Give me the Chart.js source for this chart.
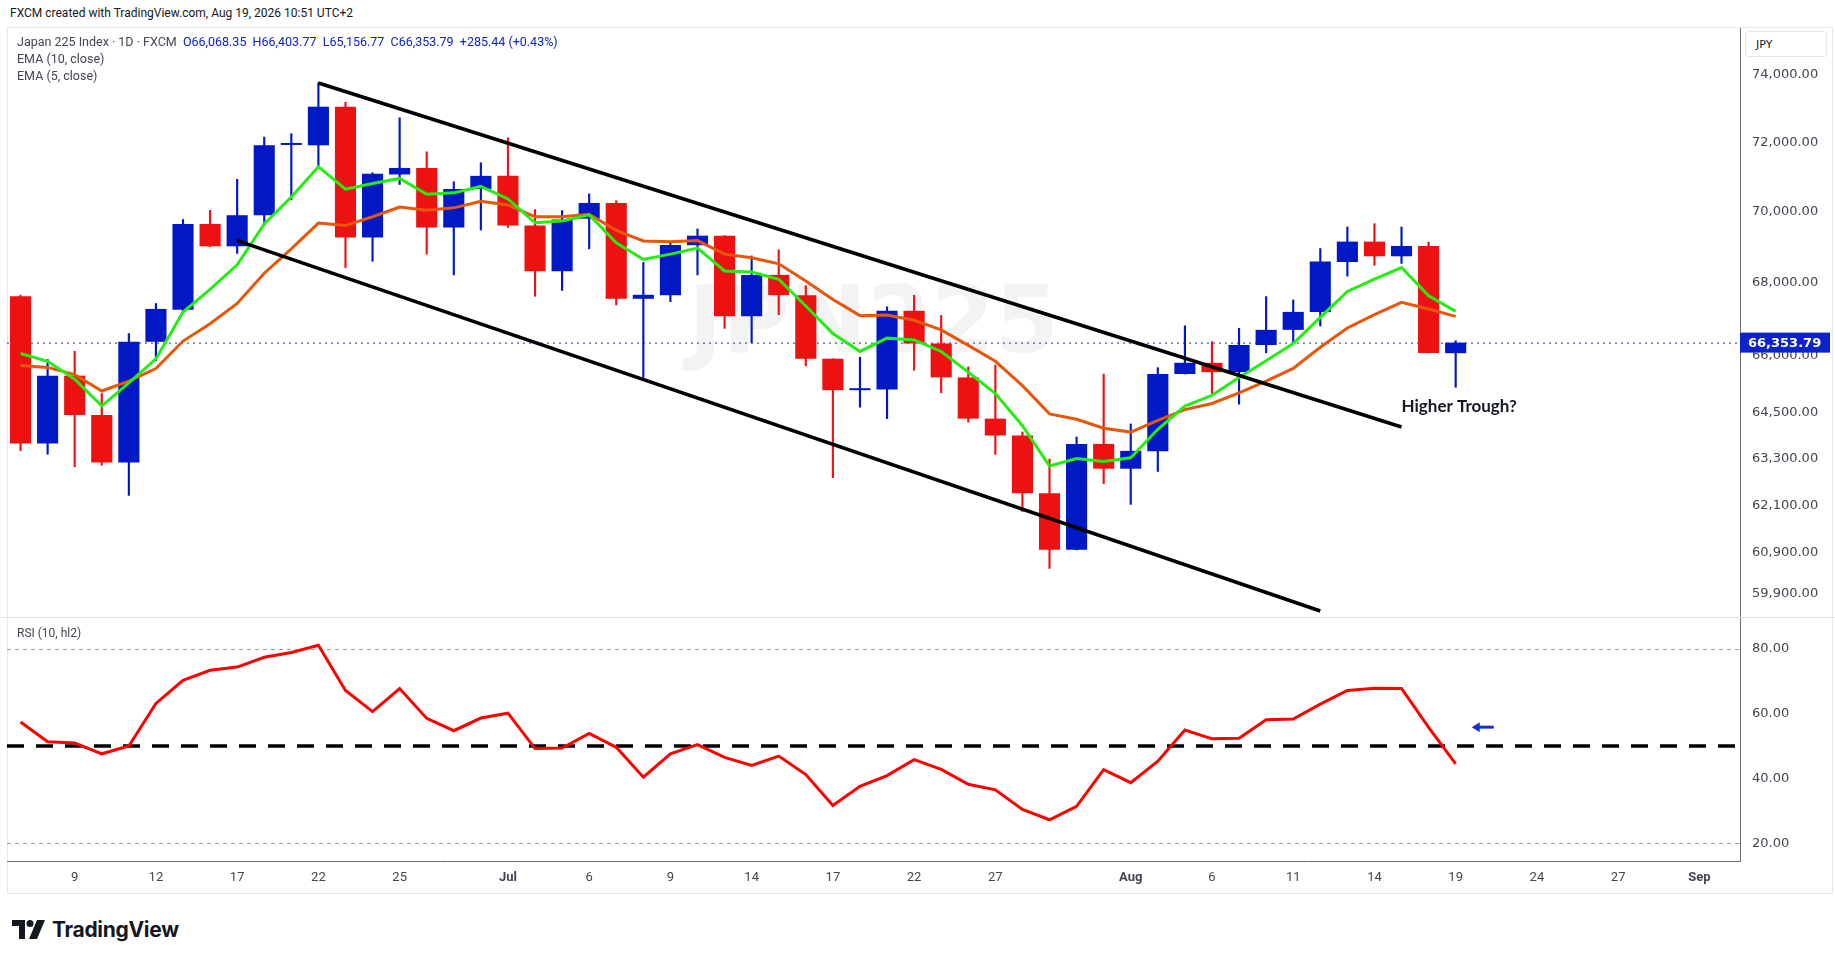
<!DOCTYPE html>
<html><head><meta charset="utf-8">
<script src="https://cdn.jsdelivr.net/npm/chart.js@4.4.1/dist/chart.umd.min.js"></script>
<style>
html,body{margin:0;padding:0;background:#fff;width:1835px;height:959px;overflow:hidden;font-family:Roboto,"DejaVu Sans",sans-serif;}
#frame{position:absolute;left:7px;top:27px;width:1826px;height:867px;border:1px solid #e6e8ee;box-sizing:border-box;}
canvas{position:absolute;left:0;}
.txt{position:absolute;white-space:nowrap;}
</style></head><body>
<div class="txt" style="left:10px;top:6px;font-size:12px;color:#131722;">FXCM created with TradingView.com, Aug 19, 2026 10:51 UTC+2</div>
<div id="frame"></div>
<div style="position:absolute;left:1745px;top:31px;width:82px;height:26px;border:1px solid #e6e8ee;border-radius:3px;box-sizing:border-box;font-size:11px;color:#131722;padding:6px 0 0 10px;font-family:'DejaVu Sans'">JPY</div>
<div style="position:absolute;left:0;top:28px;width:1835px;height:589px"><canvas id="price" width="1835" height="589"></canvas></div>
<div style="position:absolute;left:0;top:617px;width:1835px;height:277px;border-top:1px solid #dfe1e6;box-sizing:border-box"><canvas id="rsi" width="1835" height="276"></canvas></div>
<div class="txt" style="left:17px;top:34px;font-size:12.5px;color:#434651;">Japan 225 Index · 1D · FXCM&nbsp;&nbsp;<span style="color:#0d22c9">O66,068.35&nbsp; H66,403.77&nbsp; L65,156.77&nbsp; C66,353.79&nbsp; +285.44 (+0.43%)</span></div>
<div class="txt" style="left:17px;top:51px;font-size:12.5px;color:#434651;">EMA (10, close)</div>
<div class="txt" style="left:17px;top:68px;font-size:12.5px;color:#434651;">EMA (5, close)</div>
<div class="txt" style="left:17px;top:626px;font-size:12px;color:#434651;">RSI (10, hl2)</div>
<div style="position:absolute;left:12px;top:917px;display:flex;align-items:center;">
<svg width="34" height="20" viewBox="0 0 34 20"><path d="M0 0h13v19h-6V6H0z" fill="#131722"/><circle cx="18" cy="3.5" r="3.5" fill="#131722"/><path d="M25 0h8l-8 19h-8z" fill="#131722"/></svg>
<span style="font-family:Inter,Roboto,sans-serif;font-weight:700;font-size:21px;color:#131722;margin-left:6px;letter-spacing:-0.3px">TradingView</span></div>
<script>
const dates = ['Jun 5','Jun 8','Jun 9','Jun 10','Jun 11','Jun 12','Jun 15','Jun 16','Jun 17','Jun 18','Jun 19','Jun 22','Jun 23','Jun 24','Jun 25','Jun 26','Jun 29','Jun 30',
'Jul 1','Jul 2','Jul 3','Jul 6','Jul 7','Jul 8','Jul 9','Jul 10','Jul 13','Jul 14','Jul 15','Jul 16','Jul 17','Jul 20','Jul 21','Jul 22','Jul 23','Jul 24','Jul 27','Jul 28','Jul 29','Jul 30','Jul 31',
'Aug 3','Aug 4','Aug 5','Aug 6','Aug 7','Aug 10','Aug 11','Aug 12','Aug 13','Aug 14','Aug 17','Aug 18','Aug 19',
'Aug 20','Aug 21','Aug 24','Aug 25','Aug 26','Aug 27','Aug 28','Aug 31','Sep 1','Sep 2'];
const tickLabels = {'Jun 9':'9','Jun 12':'12','Jun 17':'17','Jun 22':'22','Jun 25':'25','Jul 1':'Jul','Jul 6':'6','Jul 9':'9','Jul 14':'14','Jul 17':'17','Jul 22':'22','Jul 27':'27','Aug 3':'Aug','Aug 6':'6','Aug 11':'11','Aug 14':'14','Aug 19':'19','Aug 24':'24','Aug 27':'27','Sep 1':'Sep'};
const opens  = [67617,63680,65466,64425,63190,66376,67252,69640,69010,69890,71920,71910,73050,69260,71060,71250,69540,70640,71020,69600,68310,69790,70240,67550,67650,69040,69310,67070,68210,67650,65920,65080,65100,67220,66330,65420,64330,63890,62400,60980,63670,63030,63480,65510,65810,65560,66290,66700,67190,68570,69142,68730,69020,66068.35];
const highs  = [67650,65897,66120,64990,66600,67420,69770,70030,70920,72150,72250,73770,73180,71110,72720,71720,70850,71400,72130,70050,70020,70500,70305,68560,69110,69500,69310,68740,68910,67910,65920,65960,67330,67650,67090,65700,65750,63980,63280,63850,65510,64190,65680,66810,66380,66740,67610,67520,68946,69555,69650,69555,69130,66403.77];
const lows   = [63494,63403,63080,63120,62350,65866,67200,69000,68810,69690,70330,71230,68410,68590,70770,68790,68210,69470,69540,67620,67780,68940,67380,65420,67470,68210,66740,66350,67110,65730,62800,64630,64330,65610,65010,64240,63400,61940,60520,60980,62650,62120,62960,65510,64990,64710,66080,66330,66805,68176,68480,68530,66076,65156.77];
const closes = [63680,65466,64425,63190,66376,67271,69640,69010,69890,71910,71930,73050,69260,71080,71250,69540,70640,71020,69600,68310,69770,70240,67550,67660,69050,69310,67070,68210,67650,65920,65080,65120,67220,66330,65420,64330,63890,62400,60980,63670,63030,63490,65510,65810,65560,66290,66700,67190,68583,69142,68730,69020,66076,66353.79];
const ema5   = [66060,65850,65370,64660,65275,65915,67185,67810,68490,69645,70410,71285,70635,70800,70945,70490,70530,70715,70355,69675,69725,69900,69110,68640,68790,68960,68320,68290,68090,67350,66600,66115,66475,66425,66115,65560,64990,64145,63100,63290,63215,63310,64050,64660,64945,65420,65865,66330,67040,67752,68093,68416,67633,67204];
const ema10  = [65735,65687,65495,65058,65323,65658,66396,66864,67420,68258,68939,69666,69595,69846,70121,70029,70100,70285,70180,69846,69846,69917,69460,69160,69140,69170,68790,68690,68520,68040,67530,67087,67106,66960,66700,66280,65850,65200,64455,64313,64080,63978,64285,64567,64728,65010,65322,65660,66228,66750,67113,67450,67268,67068];
const rsi    = [57.4,51.3,50.9,47.6,50.0,63.1,70.2,73.3,74.3,77.3,78.8,81.0,67.1,60.6,67.7,58.5,54.7,58.6,60.1,49.2,49.4,53.9,49.6,40.4,47.6,50.4,46.5,44.0,46.9,41.2,31.7,37.6,40.9,45.8,42.8,38.2,36.5,30.5,27.3,31.4,42.7,38.7,45.3,54.9,52.2,52.4,58.1,58.3,62.9,67.1,67.8,67.7,55.7,44.5];
const priceTicks = [59900,60900,62100,63300,64500,66000,68000,70000,72000,74000];
const rsiTicks = [20,40,60,80];
const priceRange = [59334,75431];
const rsiRange = [14.6,89.4];
const upperTrend = [{x:'Jun 22',y:73760},{x:'Aug 17',y:64110}];
const lowerTrend = [{x:'Jun 17',y:69170},{x:'Aug 12',y:59480}];
const lastClose = 66353.79;
const noteText = 'Higher Trough?', noteDate = 'Aug 17', notePrice = 64650;
const arrowDate = 'Aug 20', arrowRsi = 55.8;

const BLUE='#0119c4', RED='#ee1111';
const col = opens.map((o,i)=> closes[i]>=o ? BLUE : RED);
const fmt = v => v.toLocaleString('en-US',{minimumFractionDigits:2,maximumFractionDigits:2});
const AXW = 95;
const fitY = s=>{s.width=AXW;s.paddingTop=0;s.paddingBottom=0;};

const pricePlugin = {
  id:'pp',
  beforeDatasetsDraw(c){
    const {ctx,chartArea:a}=c;
    ctx.save();
    ctx.font='bold 92px "DejaVu Sans"';ctx.fillStyle='rgba(120,123,134,0.09)';ctx.textAlign='center';ctx.textBaseline='middle';
    ctx.fillText('JPN225',(a.left+a.right)/2,300);
    const y=c.scales.y.getPixelForValue(lastClose);
    ctx.strokeStyle='#1a2ad0';ctx.lineWidth=1;ctx.setLineDash([2,4]);
    ctx.beginPath();ctx.moveTo(a.left,y+0.5);ctx.lineTo(a.right,y+0.5);ctx.stroke();
    ctx.restore();
  },
  afterDraw(c){
    const {ctx,chartArea:a,scales}=c;
    const y=scales.y.getPixelForValue(lastClose);
    ctx.save();
    ctx.fillStyle='#0d22c9';ctx.fillRect(a.right,y-10,90,20);
    ctx.fillStyle='#fff';ctx.font='bold 13px "DejaVu Sans"';ctx.textBaseline='middle';ctx.textAlign='left';
    ctx.fillText(fmt(lastClose),a.right+8,y+1);
    ctx.fillStyle='#131722';ctx.font='bold 17px Lato';
    ctx.fillText(noteText,scales.x.getPixelForValue(dates.indexOf(noteDate)),scales.y.getPixelForValue(notePrice));
    ctx.restore();
  }
};
new Chart(document.getElementById('price'),{
  type:'bar',
  data:{labels:dates,datasets:[
    {type:'line',data:upperTrend,borderColor:'#000',borderWidth:3.5,pointRadius:0,order:1},
    {type:'line',data:lowerTrend,borderColor:'#000',borderWidth:3.5,pointRadius:0,order:1},
    {type:'line',data:ema5,borderColor:'#22ee11',borderWidth:3,pointRadius:0,order:2,tension:0},
    {type:'line',data:ema10,borderColor:'#e8560a',borderWidth:3,pointRadius:0,order:3,tension:0},
    {data:opens.map((o,i)=>[o,closes[i]]),backgroundColor:col,barPercentage:0.78,categoryPercentage:1,grouped:false,minBarLength:2,order:4},
    {data:lows.map((l,i)=>[l,highs[i]]),backgroundColor:col,barThickness:1.5,grouped:false,order:5}
  ]},
  options:{responsive:false,animation:false,events:[],layout:{padding:{left:7,right:0,top:0,bottom:0}},
    plugins:{legend:{display:false},tooltip:{enabled:false}},
    scales:{
      x:{display:false,offset:true},
      y:{type:'logarithmic',bounds:'data',position:'right',min:priceRange[0],max:priceRange[1],
         afterBuildTicks:s=>{s.ticks=priceTicks.map(v=>({value:v}));},
         afterFit:fitY,
         grid:{display:false,drawTicks:false},border:{display:true,color:'#6a6d78',width:1},
         ticks:{callback:v=>fmt(v),color:'#434651',font:{family:'DejaVu Sans',size:13},padding:12}}
    }},
  plugins:[pricePlugin]
});

const rsiPlugin={
  id:'rp',
  beforeDatasetsDraw(c){
    const {ctx,chartArea:a,scales}=c;ctx.save();
    ctx.strokeStyle='#9a9ca3';ctx.lineWidth=1;ctx.setLineDash([4,4]);
    [80,20].forEach(v=>{const y=Math.round(scales.y.getPixelForValue(v))+0.5;ctx.beginPath();ctx.moveTo(a.left,y);ctx.lineTo(a.right,y);ctx.stroke();});
    ctx.strokeStyle='#000';ctx.lineWidth=3.5;ctx.setLineDash([17,12]);
    const y5=scales.y.getPixelForValue(50);ctx.beginPath();ctx.moveTo(a.left,y5);ctx.lineTo(a.right,y5);ctx.stroke();
    ctx.restore();
  },
  afterDraw(c){
    const {ctx,scales}=c;const x=scales.x.getPixelForValue(dates.indexOf(arrowDate)),y=scales.y.getPixelForValue(arrowRsi);
    ctx.save();ctx.strokeStyle='#1030e0';ctx.fillStyle='#1030e0';ctx.lineWidth=3;
    ctx.beginPath();ctx.moveTo(x-4,y);ctx.lineTo(x+11,y);ctx.stroke();
    ctx.beginPath();ctx.moveTo(x-11,y);ctx.lineTo(x-3,y-5);ctx.lineTo(x-3,y+5);ctx.closePath();ctx.fill();
    ctx.restore();
  }
};
new Chart(document.getElementById('rsi'),{
  type:'line',
  data:{labels:dates,datasets:[{data:rsi,borderColor:'#ff0000',borderWidth:3,pointRadius:0,tension:0}]},
  options:{responsive:false,animation:false,events:[],layout:{padding:{left:7,right:0,top:0,bottom:0}},
    plugins:{legend:{display:false},tooltip:{enabled:false}},
    scales:{
      x:{offset:true,grid:{display:false,drawTicks:false},border:{display:true,color:'#6a6d78',width:1},
         afterFit:s=>{s.height=33;},
         ticks:{autoSkip:false,maxRotation:0,padding:9,color:'#434651',font:(ctx)=>({family:'Roboto',size:13,weight:(/^[A-Z]/.test(tickLabels[dates[ctx.index]]||'')?'bold':'normal')}),
           callback:(v,i)=>tickLabels[dates[i]]||''}},
      y:{position:'right',bounds:'data',min:rsiRange[0],max:rsiRange[1],
         afterBuildTicks:s=>{s.ticks=rsiTicks.map(v=>({value:v}));},
         afterFit:fitY,
         grid:{display:false,drawTicks:false},border:{display:true,color:'#6a6d78',width:1},
         ticks:{callback:v=>v.toFixed(2),color:'#434651',font:{family:'DejaVu Sans',size:13},padding:12}}
    }},
  plugins:[rsiPlugin]
});
</script>
</body></html>
